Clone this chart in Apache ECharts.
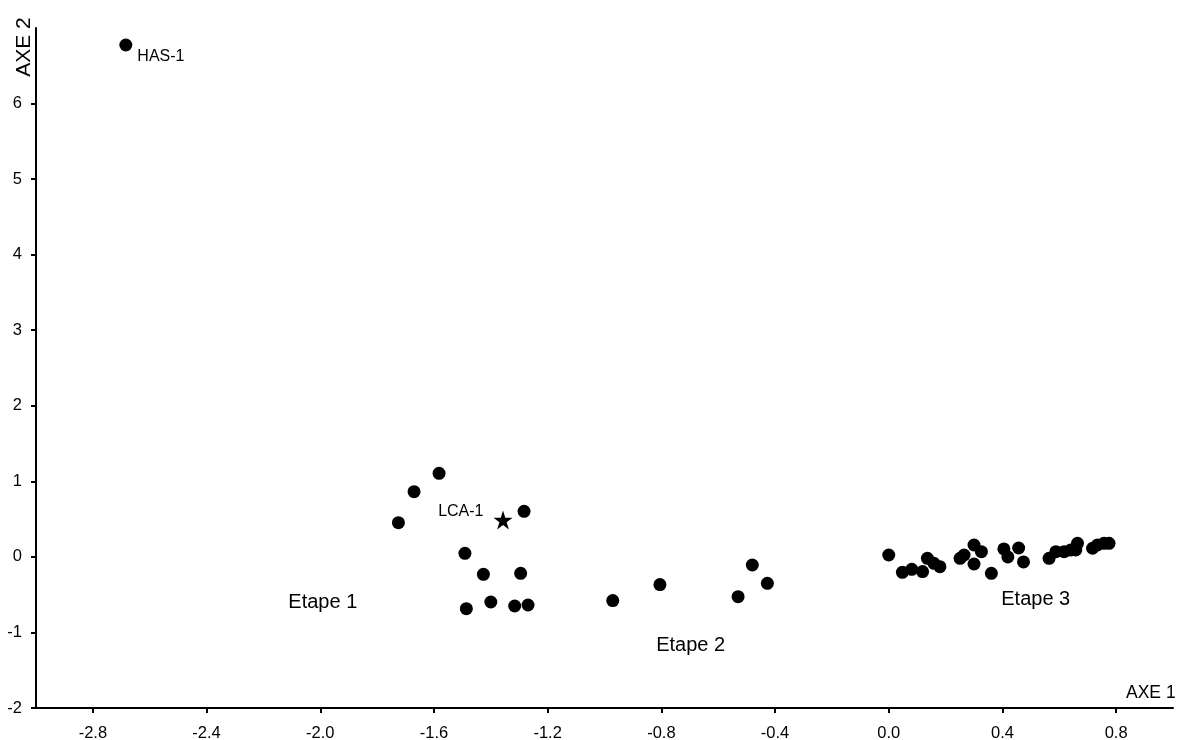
<!DOCTYPE html>
<html>
<head>
<meta charset="utf-8">
<script src="https://cdn.jsdelivr.net/npm/echarts@6/dist/echarts.min.js"></script>
<style>
html,body{margin:0;padding:0;background:#fff;}
#chart{width:1186px;height:740px;}
</style>
</head>
<body>
<div id="chart"></div>
<script>
// ---- data ----
var xTicks = [-2.8, -2.4, -2.0, -1.6, -1.2, -0.8, -0.4, 0.0, 0.4, 0.8];
var yTicks = [-2, -1, 0, 1, 2, 3, 4, 5, 6];

var etape1X = [-1.582, -1.670, -1.725, -1.283, -1.491, -1.426, -1.295, -1.486, -1.400, -1.316, -1.269];
var etape1Y = [1.106, 0.863, 0.453, 0.603, 0.047, -0.231, -0.217, -0.685, -0.597, -0.650, -0.637];

var etape2X = [-0.971, -0.805, -0.530, -0.480, -0.427];
var etape2Y = [-0.578, -0.367, -0.526, -0.107, -0.350];

var etape3X = [0.000, 0.048, 0.081, 0.119, 0.136, 0.159, 0.180, 0.251, 0.265, 0.300, 0.326, 0.300, 0.361,
               0.405, 0.419, 0.457, 0.474, 0.564, 0.588, 0.617, 0.640, 0.664, 0.658, 0.717, 0.734, 0.757, 0.775];
var etape3Y = [0.025, -0.204, -0.165, -0.195, -0.019, -0.085, -0.130, -0.019, 0.025, 0.157, 0.069, -0.094, -0.217,
               0.105, 0.000, 0.118, -0.067, -0.019, 0.069, 0.069, 0.091, 0.180, 0.091, 0.114, 0.157, 0.180, 0.180];

var hasName = 'HAS-1', hasX = -2.684, hasY = 6.775;
var lcaName = 'LCA-1', lcaX = -1.357, lcaY = 0.488;

var stageNames = ['Etape 1', 'Etape 2', 'Etape 3'];
var stageX = [-1.991, -0.697, 0.517];
var stageY = [-0.597, -1.166, -0.570];

// ---- build ----
function pairs(xs, ys) { return xs.map(function (x, i) { return [x, ys[i]]; }); }
var dots = pairs(etape1X, etape1Y).concat(pairs(etape2X, etape2Y), pairs(etape3X, etape3Y));
var FONT = '"Liberation Sans", Arial, sans-serif';
var starPath = 'path://M50,0 L61.8,36.2 L100,36.2 L69.1,58.8 L80.9,95.1 L50,72.7 L19.1,95.1 L30.9,58.8 L0,36.2 L38.2,36.2 Z';

var chart = echarts.init(document.getElementById('chart'), null, {renderer: 'canvas'});
chart.setOption({
  animation: false,
  backgroundColor: '#fff',
  grid: {left: 36, right: 13, top: 28, bottom: 32, containLabel: false, outerBoundsMode: 'none'},
  xAxis: {
    type: 'value', min: -3, max: 1,
    splitLine: {show: false},
    axisLine: {show: true, onZero: false, lineStyle: {color: '#000', width: 2}},
    axisTick: {show: true, customValues: xTicks, length: 5, lineStyle: {color: '#000', width: 2}},
    axisLabel: {customValues: xTicks, margin: 17, color: '#000', fontSize: 16.5, fontFamily: FONT,
      formatter: function (v) { return v.toFixed(1); }}
  },
  yAxis: {
    type: 'value', min: -2, max: 7,
    splitLine: {show: false},
    axisLine: {show: true, onZero: false, lineStyle: {color: '#000', width: 2}},
    axisTick: {show: true, customValues: yTicks, length: 5, lineStyle: {color: '#000', width: 2}},
    axisLabel: {customValues: yTicks, margin: 14, color: '#000', fontSize: 16.5, fontFamily: FONT,
      formatter: function (v) { return String(Math.round(v)); }}
  },
  graphic: [
    {type: 'text', left: 1126, top: 684, style: {text: 'AXE 1', fill: '#000', font: '17.5px ' + FONT}},
    {type: 'text', x: 24, y: 47, rotation: Math.PI / 2,
      style: {text: 'AXE 2', fill: '#000', font: '21px ' + FONT, align: 'center', verticalAlign: 'middle'}}
  ],
  series: [
    {
      type: 'scatter', symbol: 'circle', symbolSize: 13,
      itemStyle: {color: '#000', opacity: 1},
      data: dots.concat([{name: hasName, value: [hasX, hasY],
        label: {show: true, position: 'right', distance: 5, offset: [0, 12], formatter: '{b}',
          color: '#000', fontSize: 16, fontFamily: FONT}}]),
      z: 3
    },
    {
      type: 'scatter', symbol: starPath, symbolSize: 19,
      itemStyle: {color: '#000', opacity: 1},
      data: [{name: lcaName, value: [lcaX, lcaY]}],
      label: {show: true, position: 'left', distance: 10, offset: [0, -8], formatter: '{b}',
        color: '#000', fontSize: 16, fontFamily: FONT},
      z: 3
    },
    {
      type: 'scatter', symbolSize: 0, silent: true,
      itemStyle: {opacity: 1},
      data: stageNames.map(function (n, i) { return {name: n, value: [stageX[i], stageY[i]]}; }),
      label: {show: true, position: 'inside', formatter: '{b}', color: '#000', fontSize: 20, fontFamily: FONT}
    }
  ]
});
</script>
</body>
</html>
